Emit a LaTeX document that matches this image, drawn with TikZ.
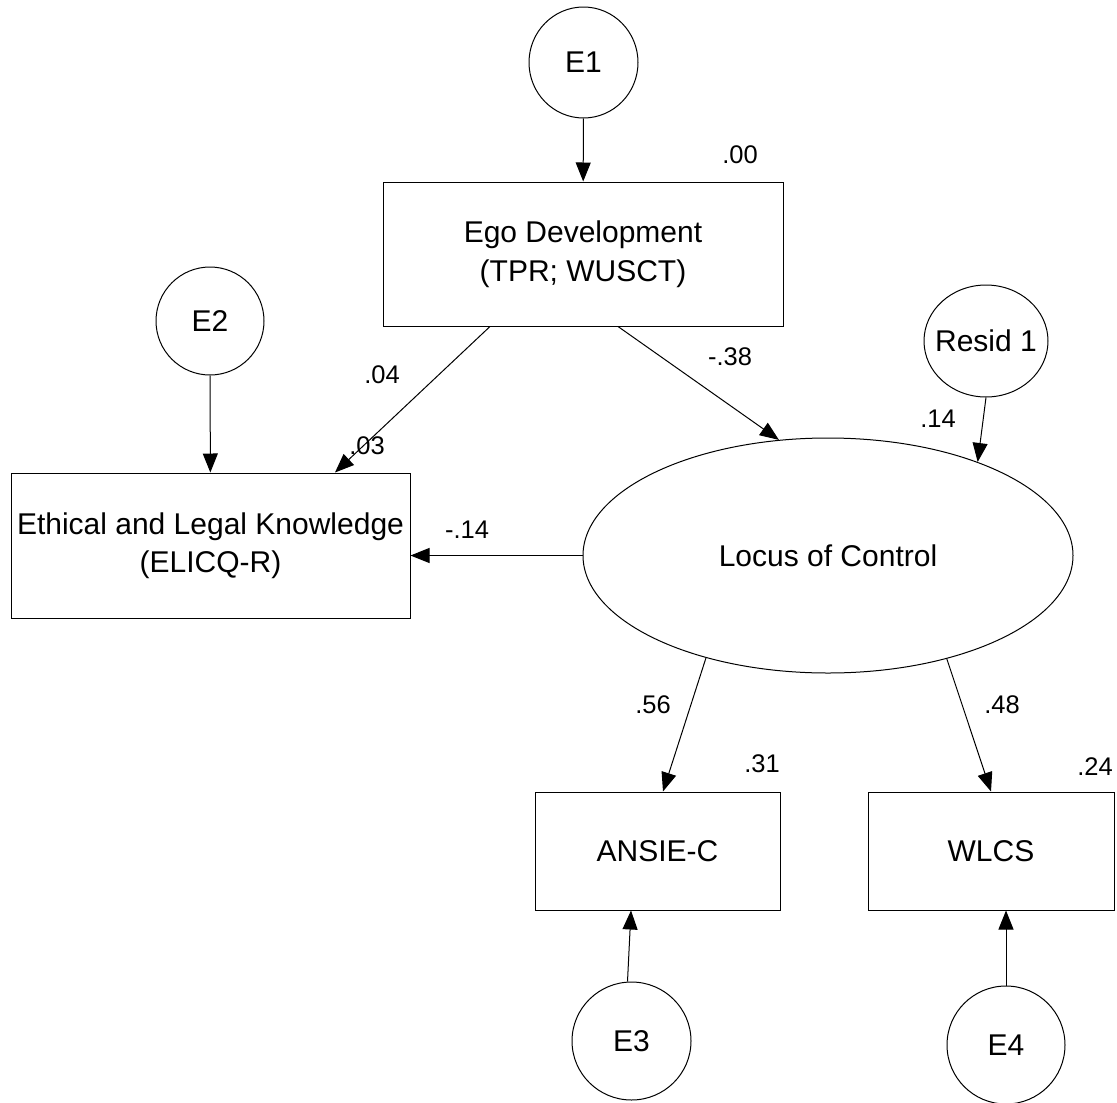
\documentclass[tikz,border=0pt]{standalone}
\usepackage{fontspec}
\setmainfont{Liberation Sans}
\usetikzlibrary{arrows.meta,shapes.geometric,calc}
\begin{document}
\begin{tikzpicture}[x=1pt,y=-1pt,
  every node/.style={font=\fontsize{30pt}{38.5pt}\selectfont},
  box/.style={draw,line width=1pt,rectangle,inner sep=0pt,align=center},
  err/.style={draw,line width=1pt,ellipse,inner sep=0pt},
  lab/.style={font=\fontsize{25.5pt}{28pt}\selectfont,inner sep=0pt},
  arr/.style={line width=1pt,-{Triangle[length=19pt,width=15pt]}}]
\useasboundingbox (0,0) rectangle (1117,1103);
% nodes
\node[err,minimum width=109pt,minimum height=111pt] (e1) at (583.5,62.5) {E1};
\node[box,minimum width=400pt,minimum height=144pt] (ego) at (583,254) {Ego Development\\(TPR; WUSCT)};
\node[err,minimum width=108pt,minimum height=108pt] (e2) at (210,321) {E2};
\node[box,minimum width=399pt,minimum height=145pt] (eth) at (210.5,545.5) {Ethical and Legal Knowledge\\(ELICQ-R)};
\node[err,minimum width=124pt,minimum height=112pt] (r1) at (986,341) {\makebox[0pt]{Resid 1}};
\node[err,minimum width=490pt,minimum height=235pt] (loc) at (828,555.5) {Locus of Control};
\node[box,minimum width=245pt,minimum height=118pt] (ansie) at (657.5,851) {ANSIE-C};
\node[box,minimum width=246pt,minimum height=118pt] (wlcs) at (991,851) {WLCS};
\node[err,minimum width=119pt,minimum height=118pt] (e3) at (631.5,1041) {E3};
\node[err,minimum width=118pt,minimum height=118pt] (e4) at (1006,1045) {E4};
% connectors
\draw[arr] (e1) -- (ego);
\draw[arr] (e2) -- (eth);
\draw[arr] ([xshift=-93pt]ego.south) -- ([xshift=124.5pt]eth.north);
\draw[arr] ([xshift=35pt]ego.south) -- (loc.113.5);
\draw[arr] (r1.south) -- (loc.32);
\draw[arr] (loc.west) -- (loc.west -| eth.east);
\draw[arr] (loc.220.8) -- ([xshift=5.5pt]ansie.north);
\draw[arr] (loc.319.7) -- (wlcs.north);
\draw[arr] ([xshift=-4pt]e3.north) -- ([xshift=-26.5pt]ansie.south);
\draw[arr] (e4.north) -- ([xshift=15pt]wlcs.south);
% labels
\node[lab] (l00) at (740,155) {.00};
\node[lab] (l04) at (382,375) {.04};
\node[lab] (l03) at (367,446) {.03};
\node[lab] (l38) at (730,357) {-.38};
\node[lab] (l14a) at (938,419) {.14};
\node[lab] (l14b) at (467,530) {-.14};
\node[lab] (l56) at (653,705) {.56};
\node[lab] (l31) at (762,764) {.31};
\node[lab] (l48) at (1002,705) {.48};
\node[lab] (l24) at (1095,767) {.24};
\end{tikzpicture}
\end{document}
